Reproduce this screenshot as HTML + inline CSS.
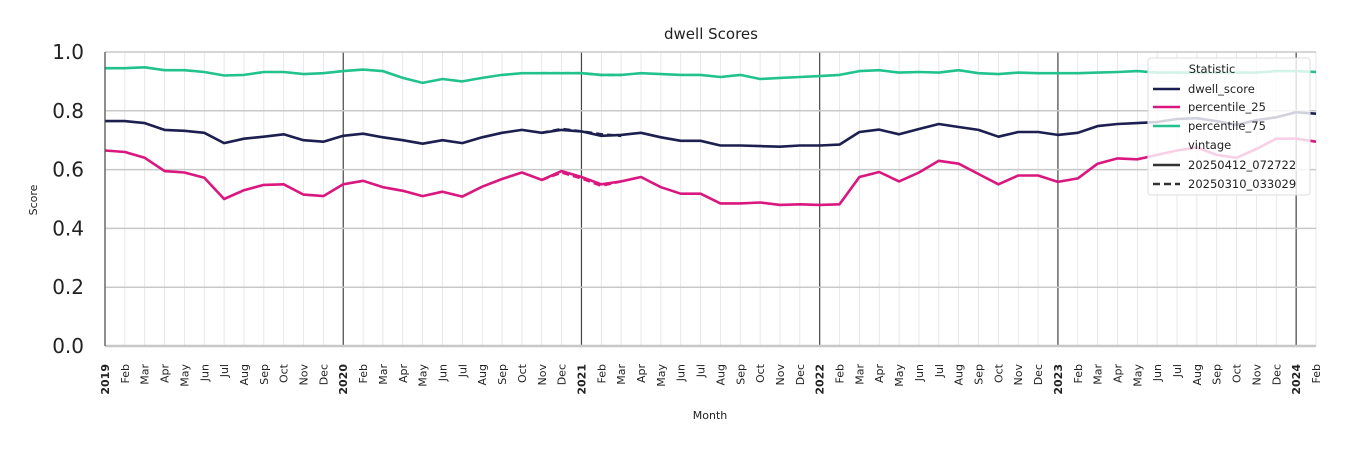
<!DOCTYPE html>
<html><head><meta charset="utf-8"><style>
body{margin:0;background:#fff;font-family:"DejaVu Sans","Liberation Sans",sans-serif;}
svg text{font-family:"DejaVu Sans","Liberation Sans",sans-serif;}
</style></head><body>
<svg id="chart" width="1350" height="450" xmlns="http://www.w3.org/2000/svg">
<text x="711" y="39" font-size="15" text-anchor="middle" fill="#222">dwell Scores</text>
<text x="710" y="419" font-size="11" text-anchor="middle" fill="#222">Month</text>
<text transform="translate(37,200) rotate(-90)" font-size="11" text-anchor="middle" fill="#222">Score</text>
<g id="grid"></g><g id="series"></g><g id="axes"></g>
<g>
<rect x="1148" y="58" width="162" height="137" rx="3" fill="#fff" fill-opacity="0.8" stroke="#ddd"/>
<text x="1212" y="73" font-size="11.5" fill="#222" text-anchor="middle">Statistic</text>
<line x1="1153" y1="89" x2="1180" y2="89" stroke="#1c1f4f" stroke-width="2.5"/><text x="1188" y="93" font-size="11.5" fill="#222">dwell_score</text>
<line x1="1153" y1="107" x2="1180" y2="107" stroke="#d9177f" stroke-width="2.5"/><text x="1188" y="111" font-size="11.5" fill="#222">percentile_25</text>
<line x1="1153" y1="126" x2="1180" y2="126" stroke="#22c28e" stroke-width="2.5"/><text x="1188" y="130" font-size="11.5" fill="#222">percentile_75</text>
<text x="1188" y="149" font-size="11.5" fill="#222">vintage</text>
<line x1="1153" y1="165" x2="1180" y2="165" stroke="#333" stroke-width="2.5"/><text x="1188" y="169" font-size="11.5" fill="#222">20250412_072722</text>
<line x1="1153" y1="184" x2="1180" y2="184" stroke="#333" stroke-width="2.5" stroke-dasharray="7,4"/><text x="1188" y="188" font-size="11.5" fill="#222">20250310_033029</text>
</g>
</svg>
<script>
const months=["Jan","Feb","Mar","Apr","May","Jun","Jul","Aug","Sep","Oct","Nov","Dec"];
const startYear=2019;
const monthCount=62;
const yTicks=[0,0.2,0.4,0.6,0.8,1.0];
const p75=[0.945,0.945,0.948,0.938,0.938,0.932,0.92,0.922,0.932,0.932,0.925,0.928,
0.935,0.94,0.935,0.912,0.895,0.908,0.9,0.912,0.922,0.928,0.928,0.928,
0.928,0.922,0.922,0.928,0.925,0.922,0.922,0.915,0.922,0.908,0.912,0.915,
0.918,0.922,0.935,0.938,0.93,0.932,0.93,0.938,0.928,0.925,0.93,0.928,
0.928,0.928,0.93,0.932,0.935,0.93,0.93,0.93,0.93,0.93,0.93,0.935,0.935,0.932];
const dwell=[0.765,0.765,0.758,0.735,0.732,0.725,0.69,0.705,0.712,0.72,0.70,0.695,
0.715,0.722,0.71,0.70,0.688,0.70,0.69,0.71,0.725,0.735,0.725,0.735,
0.73,0.715,0.718,0.725,0.71,0.698,0.698,0.682,0.682,0.68,0.678,0.682,
0.682,0.685,0.728,0.736,0.72,0.738,0.755,0.745,0.735,0.712,0.728,0.728,
0.718,0.725,0.748,0.755,0.758,0.762,0.772,0.775,0.765,0.752,0.768,0.778,0.795,0.79];
const p25=[0.665,0.66,0.64,0.595,0.59,0.572,0.5,0.53,0.548,0.55,0.515,0.51,
0.55,0.562,0.54,0.528,0.51,0.525,0.508,0.542,0.568,0.59,0.565,0.595,
0.575,0.55,0.56,0.575,0.54,0.518,0.518,0.485,0.485,0.488,0.48,0.482,
0.48,0.482,0.575,0.592,0.56,0.59,0.63,0.62,0.585,0.55,0.58,0.58,
0.558,0.57,0.62,0.638,0.635,0.65,0.665,0.675,0.65,0.64,0.67,0.705,0.705,0.695];
const oldStart=22;
const dwellOld=[0.725,0.738,0.73,0.72,0.715];
const p25Old=[0.565,0.59,0.57,0.545,0.56];
const p75Old=[0.928,0.928,0.928,0.922,0.922];

const X0=105,X1=1316,Y0=346,Y1=52;
const xs=i=>X0+i*(X1-X0)/(monthCount-1);
const ys=v=>Y0-(v-0)/(1-0)*(Y0-Y1);
const NS="http://www.w3.org/2000/svg";
function mk(tag,attrs,parent){const e=document.createElementNS(NS,tag);for(const k in attrs)e.setAttribute(k,attrs[k]);parent.appendChild(e);return e;}
const grid=document.getElementById('grid'),ser=document.getElementById('series'),axes=document.getElementById('axes');
for(let i=0;i<monthCount;i++){
  const yr=i%12===0;
  const l=mk('line',{x1:xs(i),x2:xs(i),y1:Y1,y2:Y0,stroke:yr?'#444':'#e2e2e2','stroke-width':yr?1.2:0.8},grid);
  
  
  const t=mk('text',{transform:`translate(${xs(i)+4},${364}) rotate(-90)`,'font-size':11,'text-anchor':'end',fill:'#222','font-weight':yr?'bold':'normal'},axes);
  t.textContent=yr?String(startYear+i/12):months[i%12];
  
  
}
yTicks.forEach(v=>{
  const l=mk('line',{x1:X0,x2:X1,y1:ys(v),y2:ys(v),stroke:'#c8c8c8','stroke-width':v===0?2.5:1.5},grid);
  
  
  const t=mk('text',{x:X0-21,y:ys(v)+7,'font-size':20,'text-anchor':'end',fill:'#222'},axes);
  t.textContent=v.toFixed(1);
  
  
});
const ax=mk('line',{x1:X0,x2:X0,y1:Y1,y2:Y0,stroke:'#444','stroke-width':1},axes);


function line(arr,off,color,name,dash){
  const pts=arr.map((v,i)=>xs(i+off).toFixed(1)+','+ys(v).toFixed(1)).join(' ');
  const p=mk('polyline',{points:pts,fill:'none',stroke:color,'stroke-width':2.6,'stroke-linejoin':'round'},ser);
  if(dash)p.setAttribute('stroke-dasharray','7,4');
  
  
}
line(p75Old,oldStart,'#22c28e','percentile-75-line-old',true);
line(dwellOld,oldStart,'#1c1f4f','dwell-score-line-old',true);
line(p25Old,oldStart,'#d9177f','percentile-25-line-old',true);
line(p75,0,'#22c28e','percentile-75-line',false);
line(dwell,0,'#1c1f4f','dwell-score-line',false);
line(p25,0,'#d9177f','percentile-25-line',false);
</script>
</body></html>
